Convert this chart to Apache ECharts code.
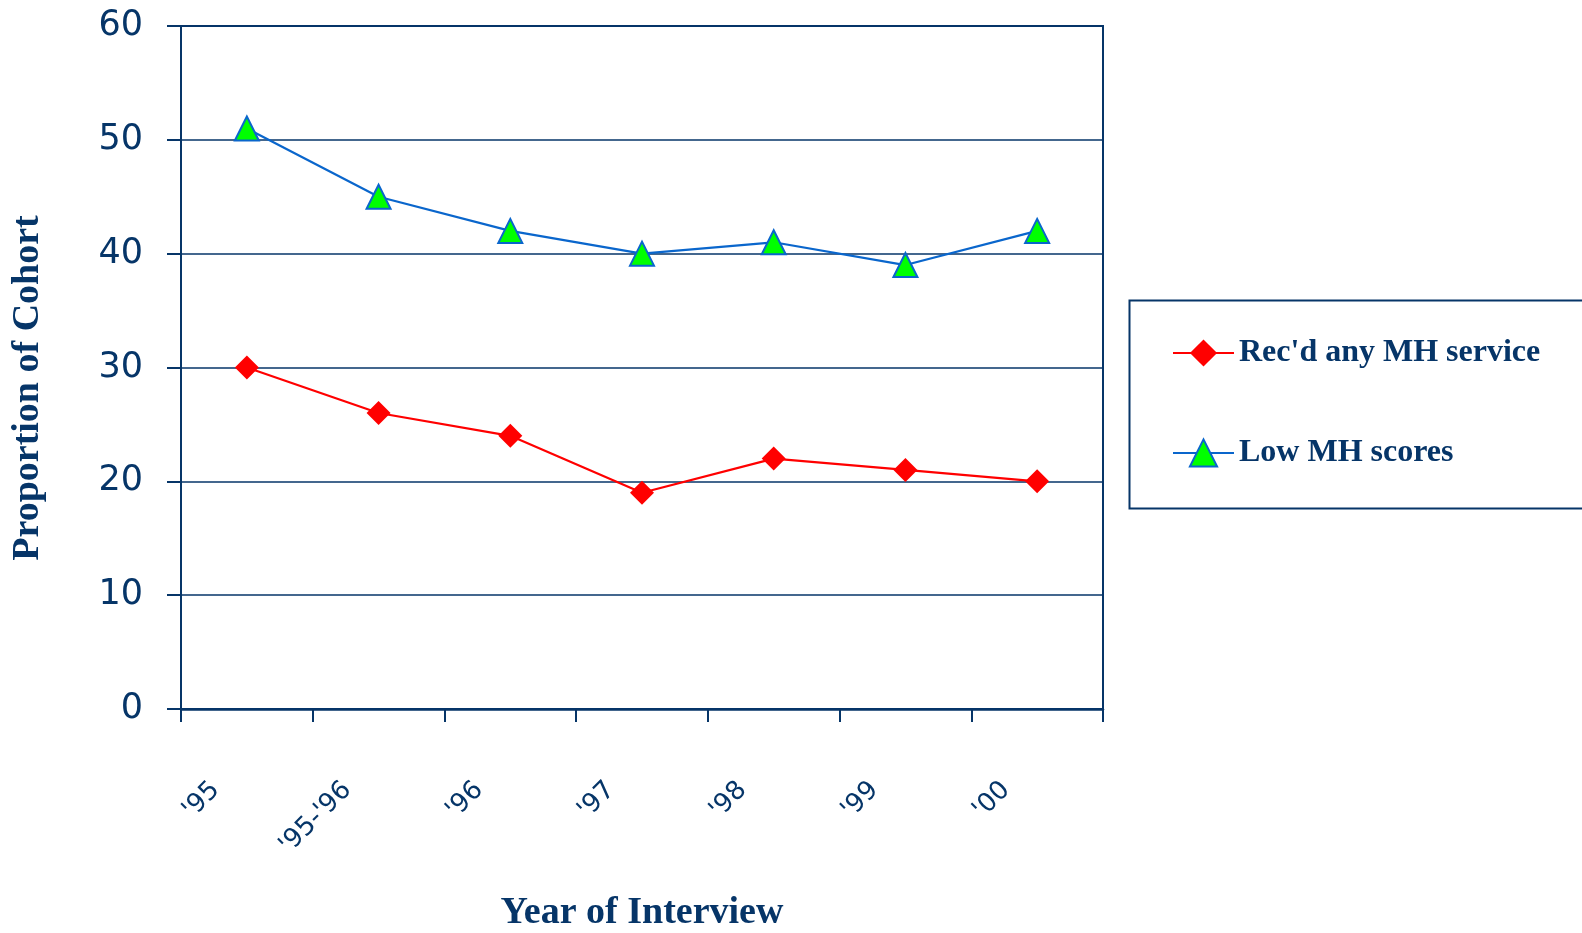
<!DOCTYPE html>
<html>
<head>
<meta charset="utf-8">
<script src="https://cdn.jsdelivr.net/npm/echarts@6/dist/echarts.min.js"></script>
<style>
  html, body { margin: 0; padding: 0; background: #ffffff; }
  #chart { width: 1582px; height: 933px; }
</style>
</head>
<body>
<div id="chart"></div>
<script>
// Interview waves
const years = ["'95", "'95-'96", "'96", "'97", "'98", "'99", "'00"];
// Percent of cohort per wave
const mhService = [30, 26, 24, 19, 22, 21, 20];
const lowMhScores = [51, 45, 42, 40, 41, 39, 42];
// Y axis ticks
const yTicks = [0, 10, 20, 30, 40, 50, 60];

const navy = '#063568';
const sans = '"DejaVu Sans", sans-serif';
const serif = '"Liberation Serif", "DejaVu Serif", serif';

const chart = echarts.init(document.getElementById('chart'), null, { renderer: 'canvas' });

chart.setOption({
  animation: false,
  backgroundColor: '#ffffff',
  grid: {
    left: 181, top: 26, right: 479, bottom: 224,
    show: true, borderColor: navy, borderWidth: 2, containLabel: false
  },
  legend: {
    orient: 'vertical',
    left: 1172, top: 337, padding: 0,
    itemWidth: 61, itemHeight: 34, itemGap: 68,
    textStyle: { color: navy, fontFamily: serif, fontWeight: 'bold', fontSize: 32 },
    data: ["Rec'd any MH service", 'Low MH scores']
  },
  graphic: [
    {
      type: 'rect', left: 1127, top: 298,
      shape: { width: 500, height: 208 },
      style: { fill: 'none', stroke: navy, lineWidth: 2 }
    },
    {
      type: 'text', x: 28, y: 388, rotation: Math.PI / 2,
      style: {
        text: 'Proportion of Cohort', fill: navy, font: 'bold 38px ' + serif,
        textAlign: 'center', textVerticalAlign: 'middle'
      }
    },
    {
      type: 'text', x: 642, y: 913,
      style: {
        text: 'Year of Interview', fill: navy, font: 'bold 38px ' + serif,
        textAlign: 'center', textVerticalAlign: 'middle'
      }
    }
  ],
  xAxis: {
    type: 'category',
    data: years,
    boundaryGap: true,
    axisLine: { lineStyle: { color: navy, width: 2.5 } },
    axisTick: { show: true, length: 13, interval: 0, lineStyle: { color: navy, width: 2 } },
    axisLabel: {
      interval: 0, rotate: 45, margin: 46, padding: [0, 44, 0, 0],
      color: navy, fontFamily: sans, fontSize: 26
    },
    splitLine: { show: false }
  },
  yAxis: {
    type: 'value',
    min: yTicks[0], max: yTicks[yTicks.length - 1], interval: 10,
    axisLine: { show: true, lineStyle: { color: navy, width: 2 } },
    axisTick: { show: true, length: 14, lineStyle: { color: navy, width: 2 } },
    axisLabel: { margin: 38, color: navy, fontFamily: sans, fontSize: 35 },
    splitLine: { show: true, lineStyle: { color: navy, width: 1.6 } }
  },
  series: [
    {
      name: "Rec'd any MH service",
      type: 'line',
      data: mhService,
      symbol: 'diamond', symbolSize: 24,
      lineStyle: { color: '#ff0000', width: 2.2 },
      itemStyle: { color: '#ff0000' },
      z: 3
    },
    {
      name: 'Low MH scores',
      type: 'line',
      data: lowMhScores,
      symbol: 'triangle', symbolSize: 24,
      lineStyle: { color: '#0a66cc', width: 2.2 },
      itemStyle: { color: '#00ff00', borderColor: '#0a66cc', borderWidth: 2 },
      z: 3
    }
  ]
});
</script>
</body>
</html>
